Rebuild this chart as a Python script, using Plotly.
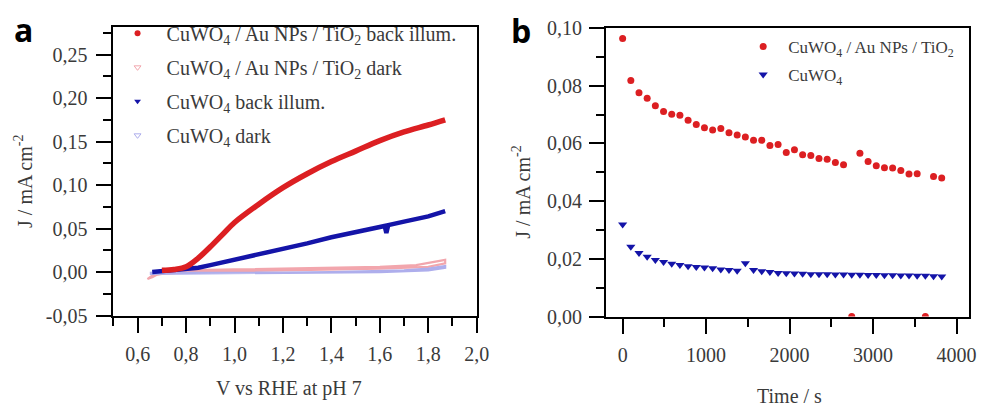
import plotly.graph_objects as go

# ---------------- Panel a data (J-V curves) ----------------
v_red = [0.70, 0.75, 0.80, 0.85, 0.90, 0.95, 1.00, 1.10, 1.20, 1.30, 1.40, 1.50, 1.60, 1.70, 1.80, 1.87]
j_red = [0.002, 0.003, 0.006, 0.016, 0.029, 0.043, 0.057, 0.078, 0.097, 0.113, 0.127, 0.139, 0.151, 0.161, 0.169, 0.175]

v_blue = [0.66, 0.70, 0.75, 0.80, 0.85, 0.90, 1.00, 1.10, 1.20, 1.30, 1.40, 1.50, 1.60, 1.62, 1.627, 1.635, 1.70, 1.80, 1.87]
j_blue = [0.000, 0.001, 0.002, 0.003, 0.005, 0.008, 0.014, 0.020, 0.026, 0.033, 0.040, 0.046, 0.052, 0.053, 0.045, 0.054, 0.058, 0.064, 0.070]

v_pink = [0.64, 0.66, 0.70, 0.80, 1.00, 1.20, 1.40, 1.60, 1.75, 1.82, 1.87, 1.87, 1.80, 1.60, 1.40, 1.20, 1.00, 0.80, 0.70, 0.66, 0.64]
j_pink = [-0.008, -0.006, 0.000, 0.002, 0.003, 0.004, 0.005, 0.006, 0.008, 0.011, 0.014, 0.010, 0.006, 0.004, 0.003, 0.002, 0.001, 0.000, -0.002, -0.004, -0.008]

v_lav = [0.65, 0.70, 0.80, 1.00, 1.20, 1.40, 1.60, 1.70, 1.80, 1.87, 1.87, 1.80, 1.60, 1.20, 0.80, 0.65]
j_lav = [-0.001, 0.000, -0.001, -0.001, -0.0005, 0.000, 0.001, 0.002, 0.004, 0.007, 0.005, 0.002, 0.000, -0.001, -0.002, -0.002]

a_xticks = [0.6, 0.8, 1.0, 1.2, 1.4, 1.6, 1.8, 2.0]
a_xlabels = ["0,6", "0,8", "1,0", "1,2", "1,4", "1,6", "1,8", "2,0"]
a_yticks = [-0.05, 0.0, 0.05, 0.10, 0.15, 0.20, 0.25]
a_ylabels = ["-0,05", "0,00", "0,05", "0,10", "0,15", "0,20", "0,25"]

# ---------------- Panel b data (chronoamperometry) ----------------
t_s = [0, 98, 196, 294, 392, 490, 588, 686, 784, 882, 980, 1078, 1176, 1274, 1372,
       1470, 1568, 1666, 1764, 1862, 1960, 2058, 2156, 2254, 2352, 2450, 2548, 2646,
       2744, 2842, 2940, 3038, 3136, 3234, 3332, 3430, 3528, 3626, 3724, 3822]
j_au = [0.0964, 0.0818, 0.0776, 0.0757, 0.0731, 0.0711, 0.0701, 0.0698, 0.0680, 0.0666,
        0.0654, 0.0647, 0.0652, 0.0637, 0.0629, 0.0622, 0.0611, 0.0611, 0.0593, 0.0596,
        0.0569, 0.0578, 0.0561, 0.0558, 0.0548, 0.0545, 0.0534, 0.0526, 0.0000, 0.0566,
        0.0537, 0.0523, 0.0516, 0.0515, 0.0506, 0.0494, 0.0495, 0.0000, 0.0485, 0.0480]
j_cw = [0.0319, 0.0242, 0.0220, 0.0207, 0.0196, 0.0189, 0.0183, 0.0179, 0.0174, 0.0172,
        0.0170, 0.0167, 0.0163, 0.0161, 0.0159, 0.0185, 0.0161, 0.0157, 0.0154, 0.0151,
        0.0150, 0.0149, 0.0148, 0.0147, 0.0147, 0.0147, 0.0146, 0.0146, 0.0145, 0.0145,
        0.0144, 0.0144, 0.0143, 0.0143, 0.0142, 0.0142, 0.0141, 0.0141, 0.0140, 0.0139]

b_xticks = [0, 1000, 2000, 3000, 4000]
b_xlabels = ["0", "1000", "2000", "3000", "4000"]
b_yticks = [0.0, 0.02, 0.04, 0.06, 0.08, 0.10]
b_ylabels = ["0,00", "0,02", "0,04", "0,06", "0,08", "0,10"]

names_a = ["CuWO<sub>4</sub> / Au NPs / TiO<sub>2</sub> back illum.",
           "CuWO<sub>4</sub> / Au NPs / TiO<sub>2</sub> dark",
           "CuWO<sub>4</sub> back illum.",
           "CuWO<sub>4</sub> dark"]
names_b = ["CuWO<sub>4</sub> / Au NPs / TiO<sub>2</sub>", "CuWO<sub>4</sub>"]

RED = "#dc1f22"
PINK = "#f2a6ad"
BLUE = "#1414a8"
LAV = "#aeaeec"
SERIF = "Liberation Serif"
TXT = "#3a3a3a"

fig = go.Figure()

# panel a curves
fig.add_trace(go.Scatter(x=v_pink, y=j_pink, mode="lines", line=dict(color=PINK, width=2.2),
                         showlegend=False, xaxis="x", yaxis="y"))
fig.add_trace(go.Scatter(x=v_lav, y=j_lav, mode="lines", line=dict(color=LAV, width=2.2),
                         showlegend=False, xaxis="x", yaxis="y"))
fig.add_trace(go.Scatter(x=v_blue, y=j_blue, mode="lines", line=dict(color=BLUE, width=4.5),
                         showlegend=False, xaxis="x", yaxis="y"))
fig.add_trace(go.Scatter(x=v_red, y=j_red, mode="lines", line=dict(color=RED, width=5.5, shape="spline"),
                         showlegend=False, xaxis="x", yaxis="y"))

# legend entries for panel a
leg_a = [(names_a[0], "circle", RED), (names_a[1], "triangle-down-open", PINK),
         (names_a[2], "triangle-down", BLUE), (names_a[3], "triangle-down-open", LAV)]
for i, (nm, sym, col) in enumerate(leg_a):
    fig.add_trace(go.Scatter(x=[None], y=[None], mode="markers", name=nm,
                             marker=dict(symbol=sym, color=col, size=6),
                             legend="legend", legendgroup="a%d" % i, xaxis="x", yaxis="y"))

# panel b scatter
fig.add_trace(go.Scatter(x=t_s, y=j_au, mode="markers", name=names_b[0],
                         marker=dict(symbol="circle", color=RED, size=7),
                         legend="legend2", legendgroup="b0", xaxis="x2", yaxis="y2"))
fig.add_trace(go.Scatter(x=t_s, y=j_cw, mode="markers", name=names_b[1],
                         marker=dict(symbol="triangle-down", color=BLUE, size=8),
                         legend="legend2", legendgroup="b1", xaxis="x2", yaxis="y2"))

W, H = 990, 407
def px(x):
    return x / W
def py(y):
    return 1 - y / H

def ax(**kw):
    d = dict(showline=True, linecolor="black", linewidth=2, mirror=True,
             ticks="outside", tickcolor="black", tickwidth=2, ticklen=15,
             showgrid=False, zeroline=False, tickmode="array",
             tickfont=dict(family=SERIF, size=20, color=TXT))
    d.update(kw)
    return d

def minor(dt, t0):
    return dict(dtick=dt, tick0=t0, ticks="outside", ticklen=8, tickwidth=2, tickcolor="black")

fig.update_layout(
    width=W, height=H, margin=dict(l=0, r=0, t=0, b=0),
    paper_bgcolor="white", plot_bgcolor="white",
    font=dict(family=SERIF, size=20, color=TXT),
    xaxis=ax(domain=[px(115), px(483)], range=[0.5, 2.0], anchor="y",
             tickvals=a_xticks, ticktext=a_xlabels, ticklabelstandoff=4,
             minor=minor(0.1, 0.5)),
    yaxis=ax(domain=[py(322), py(17)], range=[-0.05, 0.2815], anchor="x",
             tickvals=a_yticks, ticktext=a_ylabels, ticklabelstandoff=5,
             minor=minor(0.025, 0)),
    xaxis2=ax(domain=[px(614), px(982)], range=[-200, 4150], anchor="y2",
              tickvals=b_xticks, ticktext=b_xlabels, ticklabelstandoff=4,
              minor=minor(500, 0)),
    yaxis2=ax(domain=[py(323), py(18)], range=[0, 0.1], anchor="x2",
              tickvals=b_yticks, ticktext=b_ylabels, ticklabelstandoff=3,
              minor=minor(0.01, 0)),
    legend=dict(x=px(110), y=py(3), xanchor="left", yanchor="top",
                bgcolor="rgba(0,0,0,0)", borderwidth=0, tracegroupgap=5, itemwidth=48,
                font=dict(family=SERIF, size=20, color=TXT)),
    legend2=dict(x=px(748), y=py(19), xanchor="left", yanchor="top",
                 bgcolor="rgba(0,0,0,0)", borderwidth=0, tracegroupgap=3, itemwidth=40,
                 font=dict(family=SERIF, size=17, color=TXT)),
    annotations=[
        dict(text="a", x=px(24), y=py(20), xref="paper", yref="paper", showarrow=False,
             xanchor="center", yanchor="middle",
             font=dict(family="Open Sans", size=32, color="black", weight=700)),
        dict(text="b", x=px(528), y=py(21), xref="paper", yref="paper", showarrow=False,
             xanchor="center", yanchor="middle",
             font=dict(family="Open Sans", size=32, color="black", weight=700)),
        dict(text="J / mA cm<sup>-2</sup>", x=px(24), y=py(180), xref="paper", yref="paper",
             xanchor="center", yanchor="middle",
             showarrow=False, textangle=-90, font=dict(family=SERIF, size=20, color=TXT)),
        dict(text="J / mA cm<sup>-2</sup>", x=px(528), y=py(192), xref="paper", yref="paper",
             xanchor="center", yanchor="middle",
             showarrow=False, textangle=-90, font=dict(family=SERIF, size=20, color=TXT)),
        dict(text="V vs RHE at pH 7", x=px(293), y=py(399), xref="paper", yref="paper",
             xanchor="center", yanchor="middle",
             showarrow=False, font=dict(family=SERIF, size=20, color=TXT)),
        dict(text="Time / s", x=px(800), y=py(407), xref="paper", yref="paper",
             xanchor="center", yanchor="middle",
             showarrow=False, font=dict(family=SERIF, size=20, color=TXT)),
    ],
)

fig.write_html("out.html")
